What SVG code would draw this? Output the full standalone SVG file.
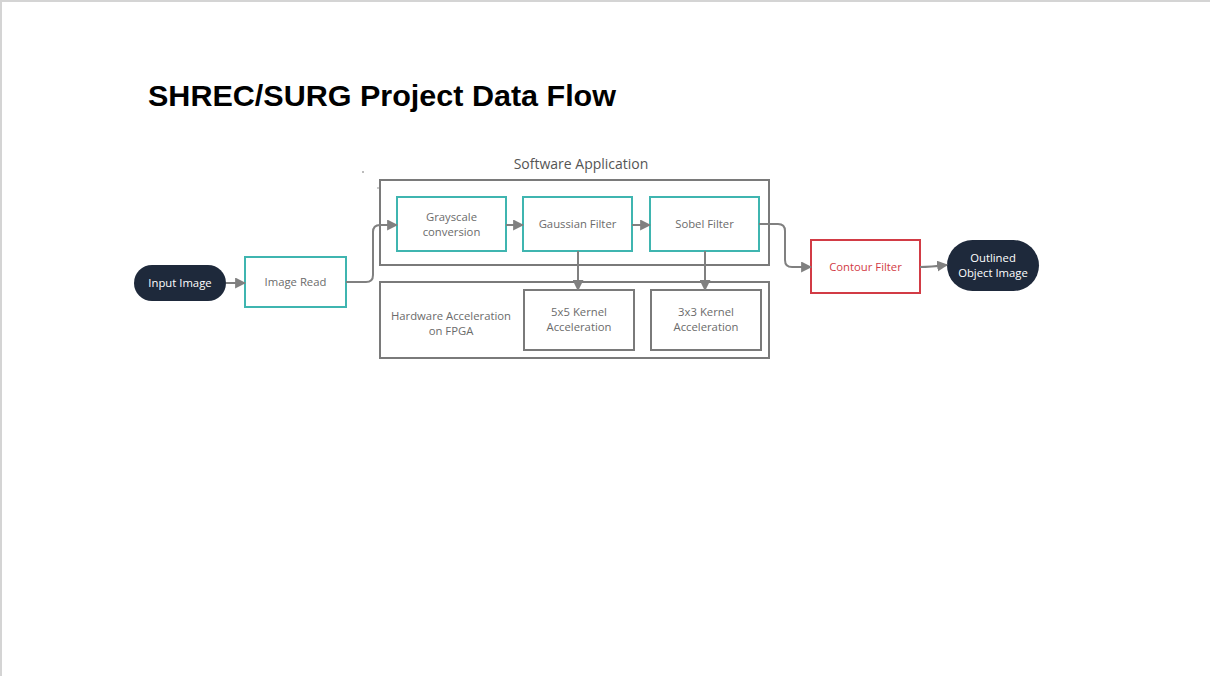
<svg xmlns="http://www.w3.org/2000/svg" width="1210" height="676" viewBox="0 0 1210 676">
<style>
.lbl{font-family:"Open Sans","Noto Sans",sans-serif;font-size:11.3px;fill:#6b6b6b;text-anchor:middle}
.wlbl{font-family:"Open Sans","Noto Sans",sans-serif;font-size:11.3px;fill:#ffffff;text-anchor:middle}
.teal{fill:#ffffff;stroke:#3fb5b0;stroke-width:2}
.grey{fill:#ffffff;stroke:#7a7a7a;stroke-width:2}
.pill{fill:#1e293b}
.conn{fill:none;stroke:#808080;stroke-width:2}
</style>
<defs>
<marker id="ah" viewBox="0 0 10 10" refX="9" refY="5" markerWidth="5.5" markerHeight="5.5" orient="auto" markerUnits="strokeWidth">
<path d="M0,0 L10,5 L0,10 Z" fill="#808080"/>
</marker>
</defs>
<rect width="1210" height="676" fill="#ffffff"/>
<line x1="0" y1="1" x2="1210" y2="1" stroke="#d4d4d4" stroke-width="2"/>
<line x1="1" y1="0" x2="1" y2="676" stroke="#d4d4d4" stroke-width="2"/>
<text x="148" y="106" font-family="'Liberation Sans',Arial,sans-serif" font-weight="bold" font-size="30" textLength="468" lengthAdjust="spacingAndGlyphs" fill="#000000">SHREC/SURG Project Data Flow</text>
<circle cx="363" cy="172" r="0.8" fill="#666"/>
<circle cx="378" cy="188" r="0.8" fill="#888"/>

<g id="software-application">
<rect x="380" y="180" width="389" height="85" class="grey"/>
<text x="581" y="169" font-family="'Open Sans','Noto Sans',sans-serif" font-size="14" fill="#555555" text-anchor="middle">Software Application</text>
</g>
<g id="hardware-acceleration">
<rect x="380" y="282" width="389" height="76" class="grey"/>
<text x="451" y="320" class="lbl">Hardware Acceleration</text>
<text x="451" y="335" class="lbl">on FPGA</text>
</g>
<g id="input-image">
<rect x="134" y="265" width="92" height="36" rx="18" class="pill"/>
<text x="180" y="287" class="wlbl">Input Image</text>
</g>
<g id="image-read">
<rect x="245" y="257" width="101" height="50" class="teal"/>
<text x="295.5" y="286" class="lbl">Image Read</text>
</g>
<g id="grayscale">
<rect x="397" y="197" width="109" height="54" class="teal"/>
<text x="451.5" y="221" class="lbl">Grayscale</text>
<text x="451.5" y="236" class="lbl">conversion</text>
</g>
<g id="gaussian">
<rect x="523" y="197" width="109" height="54" class="teal"/>
<text x="577.5" y="228" class="lbl">Gaussian Filter</text>
</g>
<g id="sobel">
<rect x="650" y="197" width="109" height="54" class="teal"/>
<text x="704.5" y="228" class="lbl">Sobel Filter</text>
</g>
<g id="kernel5">
<rect x="524" y="290" width="110" height="60" class="grey"/>
<text x="579" y="316" class="lbl">5x5 Kernel</text>
<text x="579" y="331" class="lbl">Acceleration</text>
</g>
<g id="kernel3">
<rect x="651" y="290" width="110" height="60" class="grey"/>
<text x="706" y="316" class="lbl">3x3 Kernel</text>
<text x="706" y="331" class="lbl">Acceleration</text>
</g>
<g id="contour">
<rect x="811" y="240" width="109" height="53" fill="#ffffff" stroke="#d23b45" stroke-width="2"/>
<text x="865.5" y="271" font-family="'Open Sans','Noto Sans',sans-serif" font-size="11.3" fill="#d23b45" text-anchor="middle">Contour Filter</text>
</g>
<g id="outlined">
<rect x="947" y="240" width="92" height="51" rx="25.5" class="pill"/>
<text x="993" y="262" class="wlbl">Outlined</text>
<text x="993" y="277" class="wlbl">Object Image</text>
</g>

<g id="connectors">
<path d="M226,283 L245,283" class="conn" marker-end="url(#ah)"/>
<path d="M346,282 L366,282 Q373,282 373,275 L373,232 Q373,225 380,225 L397,225" class="conn" marker-end="url(#ah)"/>
<path d="M506,225 L523,225" class="conn" marker-end="url(#ah)"/>
<path d="M632,225 L650,225" class="conn" marker-end="url(#ah)"/>
<path d="M578,251 L578,290" class="conn" marker-end="url(#ah)"/>
<path d="M705,251 L705,290" class="conn" marker-end="url(#ah)"/>
<path d="M759,224 L778,224 Q785,224 785,231 L785,260 Q785,267 792,267 L811,267" class="conn" marker-end="url(#ah)"/>
<path d="M920,267 Q930,267 947,265" class="conn" marker-end="url(#ah)"/>
</g>
</svg>
